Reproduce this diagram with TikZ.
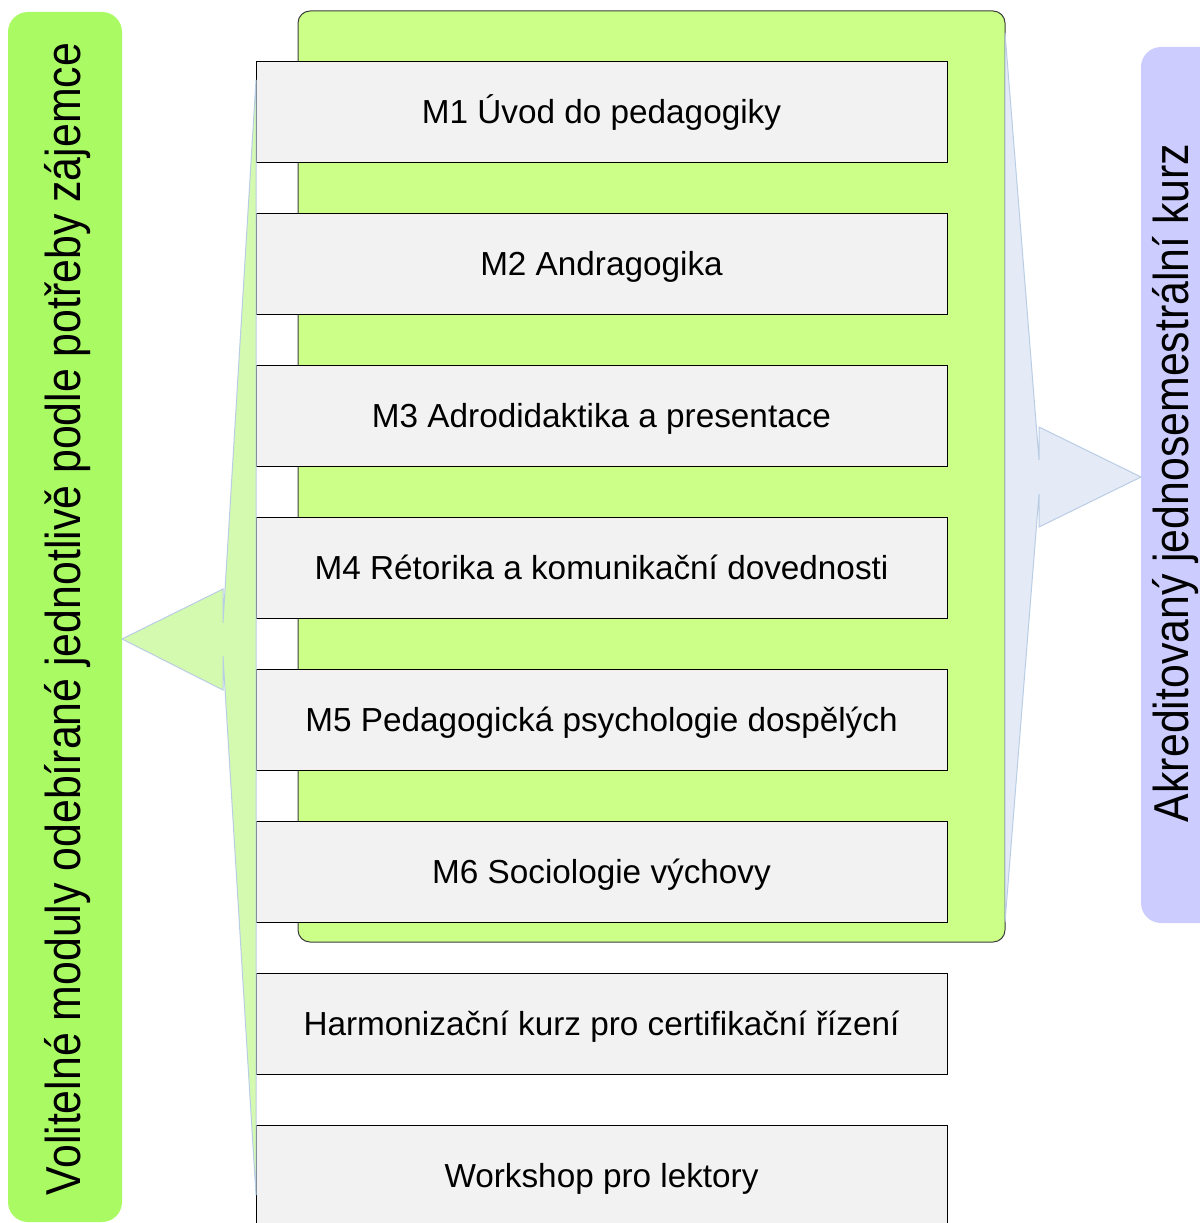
\documentclass[tikz,border=0pt]{standalone}
\usepackage{fontspec}
\setmainfont{Liberation Sans}
\usepackage{graphicx}
\definecolor{barleft}{RGB}{170,250,100}
\definecolor{contfill}{RGB}{204,255,136}
\definecolor{contline}{RGB}{60,60,60}
\definecolor{arrowL}{RGB}{212,250,176}
\definecolor{arrowLine}{RGB}{185,205,229}
\definecolor{arrowR}{RGB}{228,234,246}
\definecolor{barright}{RGB}{204,204,255}
\definecolor{boxfill}{RGB}{242,242,242}
\begin{document}
\begin{tikzpicture}[x=1pt,y=-1pt,
  modbox/.style={draw=black, fill=boxfill, line width=1pt, minimum width=691pt,
    minimum height=101pt, inner sep=0pt, outer sep=0pt, text height=30pt, text depth=6pt,
    font=\fontsize{33.3}{40}\selectfont},
  sidebar/.style={rounded corners=20pt, inner sep=0pt, outer sep=0pt, draw=none},
  sidetext/.style={inner sep=0pt, outer sep=0pt, font=\fontsize{49}{58}\selectfont, anchor=base west, rotate=90},
  callout/.style={draw=arrowLine, line width=1pt, line join=miter}
]
\useasboundingbox (0,0) rectangle (1199,1223);
% side bars
\node[sidebar, fill=barleft, minimum width=114pt, minimum height=1210pt] (lbar) at (65,617) {};
\node[sidebar, fill=barright, minimum width=90pt, minimum height=876pt] (rbar) at (1186,485) {};
% container
\node[draw=contline, fill=contfill, line width=1pt, rounded corners=12pt,
  minimum width=707pt, minimum height=931pt, inner sep=0pt] (cont) at (651.5,476.5) {};
% module boxes
\node[modbox] (m1) at (601.5,111.8) {M1 Úvod do pedagogiky};
\node[modbox] (m2) at (601.5,263.8) {M2 Andragogika};
\node[modbox] (m3) at (601.5,415.8) {M3 Adrodidaktika a presentace};
\node[modbox] (m4) at (601.5,567.8) {M4 Rétorika a komunikační dovednosti};
\node[modbox] (m5) at (601.5,719.8) {M5 Pedagogická psychologie dospělých};
\node[modbox] (m6) at (601.5,871.8) {M6 Sociologie výchovy};
\node[modbox] (h) at (601.5,1023.8) {Harmonizační kurz pro certifikační řízení};
\node[modbox] (w) at (601.5,1175.8) {Workshop pro lektory};
% callout shapes
\draw[callout, fill=arrowL] (256,80) -- (223,623) -- (223,589) -- (122,639) -- (223,690) -- (223,656) -- (256,1195) -- cycle;
\draw[callout, fill=arrowR] (1005,33) -- (1039,460) -- (1039,427) -- (1141,477) -- (1039,527) -- (1039,494) -- (1005,922) -- cycle;
% side texts
\node[sidetext] (ltext) at (80,1195) {\scalebox{0.874}[1]{Volitelné moduly odebírané jednotlivě podle potřeby zájemce}};
\node[sidetext] (rtext) at (1188,822) {\scalebox{0.874}[1]{Akreditovaný jednosemestrální kurz}};
\end{tikzpicture}
\end{document}
